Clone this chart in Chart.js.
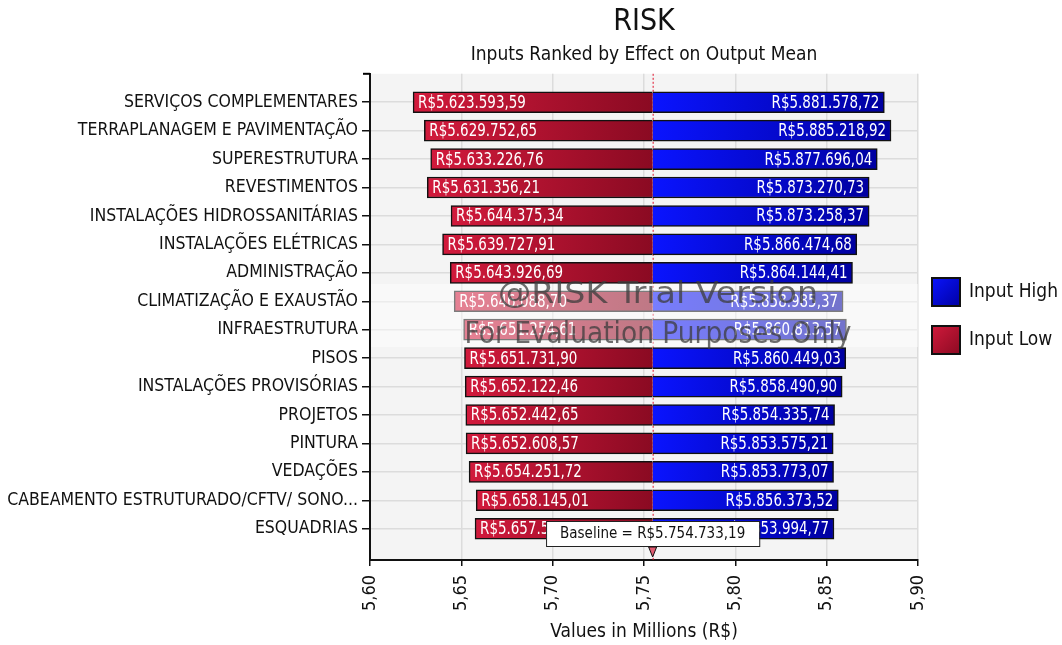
<!DOCTYPE html>
<html>
<head>
<meta charset="utf-8">
<script src="https://cdn.jsdelivr.net/npm/chart.js@4.4.1/dist/chart.umd.min.js"></script>
<style>
  html, body { margin: 0; padding: 0; background: #fff; }
  #wrap { width: 1062px; height: 645px; position: relative; }
</style>
</head>
<body>
<div id="wrap"><canvas id="chart"></canvas></div>
<script>
const categories = [
    'SERVIÇOS COMPLEMENTARES',
    'TERRAPLANAGEM E PAVIMENTAÇÃO',
    'SUPERESTRUTURA',
    'REVESTIMENTOS',
    'INSTALAÇÕES HIDROSSANITÁRIAS',
    'INSTALAÇÕES ELÉTRICAS',
    'ADMINISTRAÇÃO',
    'CLIMATIZAÇÃO E EXAUSTÃO',
    'INFRAESTRUTURA',
    'PISOS',
    'INSTALAÇÕES PROVISÓRIAS',
    'PROJETOS',
    'PINTURA',
    'VEDAÇÕES',
    'CABEAMENTO ESTRUTURADO/CFTV/ SONO...',
    'ESQUADRIAS'
];

// Input Low (R$)
const lowValues = [
    5623593.59, 5629752.65, 5633226.76, 5631356.21, 5644375.34, 5639727.91,
    5643926.69, 5646088.70, 5651254.61, 5651731.90, 5652122.46, 5652442.65,
    5652608.57, 5654251.72, 5658145.01, 5657512.38
];

// Input High (R$)
const highValues = [
    5881578.72, 5885218.92, 5877696.04, 5873270.73, 5873258.37, 5866474.68,
    5864144.41, 5858985.37, 5860813.57, 5860449.03, 5858490.90, 5854335.74,
    5853575.21, 5853773.07, 5856373.52, 5853994.77
];

const baseline = 5754733.19;
const xTicks = [5.60, 5.65, 5.70, 5.75, 5.80, 5.85, 5.90];

const FONT = "'DejaVu Sans Condensed', 'DejaVu Sans', sans-serif";
Chart.defaults.font.family = FONT;
Chart.defaults.color = '#111';

// R$5.623.593,59
function money(v) {
    const parts = v.toFixed(2).split('.');
    return 'R$' + parts[0].replace(/\B(?=(\d{3})+(?!\d))/g, '.') + ',' + parts[1];
}

// degradê por barra (claro em cima/esquerda, escuro embaixo/direita)
function barFill(light, dark, isLow) {
    return function(context) {
        const chart = context.chart;
        const xs = chart.scales.x, ys = chart.scales.y;
        if (!chart.chartArea || !xs || !ys) return light;
        const i = context.dataIndex;
        const a = xs.getPixelForValue((isLow ? lowValues[i] : baseline) / 1e6);
        const b = xs.getPixelForValue((isLow ? baseline : highValues[i]) / 1e6);
        const y = ys.getPixelForValue(i);
        const g = chart.ctx.createLinearGradient(a, y - 10, b, y + 10);
        g.addColorStop(0, light);
        g.addColorStop(1, dark);
        return g;
    };
}

// texto esticado até uma largura alvo
function fitText(ctx, txt, cx, cy, width) {
    const m = ctx.measureText(txt).width;
    ctx.save();
    ctx.translate(cx, cy);
    ctx.scale(width / m, 1);
    ctx.fillText(txt, 0, 0);
    ctx.restore();
}

// fundo cinza da área do gráfico + linha pontilhada da base
const plotBack = {
    id: 'plotBack',
    beforeDraw(chart) {
        const { ctx, chartArea: a } = chart;
        ctx.save();
        ctx.fillStyle = '#f4f4f4';
        ctx.fillRect(a.left, a.top, a.right - a.left, a.bottom - a.top);
        ctx.restore();
    },
    beforeDatasetsDraw(chart) {
        const { ctx, chartArea: a } = chart;
        const x = chart.scales.x.getPixelForValue(baseline / 1e6);
        ctx.save();
        ctx.strokeStyle = '#e0102a';
        ctx.lineWidth = 1;
        ctx.setLineDash([2, 2]);
        ctx.beginPath();
        ctx.moveTo(x + 0.5, a.top);
        ctx.lineTo(x + 0.5, a.bottom);
        ctx.stroke();
        ctx.restore();
    }
};

// rótulos de valor dentro das barras (fonte um pouco mais estreita)
const barLabels = {
    id: 'barLabels',
    afterDatasetsDraw(chart) {
        const { ctx } = chart;
        const xs = chart.scales.x, ys = chart.scales.y;
        const sx = 0.88;
        ctx.save();
        ctx.font = '17px ' + FONT;
        ctx.fillStyle = '#fff';
        ctx.textBaseline = 'middle';
        categories.forEach((c, i) => {
            const y = ys.getPixelForValue(i) + 1;
            const xl = xs.getPixelForValue(lowValues[i] / 1e6) + 5;
            const xr = xs.getPixelForValue(highValues[i] / 1e6) - 5;
            ctx.save();
            ctx.translate(xl, y);
            ctx.scale(sx, 1);
            ctx.textAlign = 'left';
            ctx.fillText(money(lowValues[i]), 0, 0);
            ctx.restore();
            ctx.save();
            ctx.translate(xr, y);
            ctx.scale(sx, 1);
            ctx.textAlign = 'right';
            ctx.fillText(money(highValues[i]), 0, 0);
            ctx.restore();
        });
        ctx.restore();
    }
};

// marca d'água, caixa da base, legenda
const overlay = {
    id: 'overlay',
    afterDraw(chart) {
        const { ctx, chartArea: a } = chart;
        const xs = chart.scales.x;
        const bx = xs.getPixelForValue(baseline / 1e6);
        ctx.save();

        // faixa branca da versão de avaliação
        ctx.fillStyle = 'rgba(255,255,255,0.45)';
        ctx.fillRect(a.left + 1, 284, a.right - a.left - 1, 63);
        ctx.fillStyle = 'rgba(60,60,60,0.75)';
        ctx.textAlign = 'center';
        ctx.textBaseline = 'middle';
        ctx.font = '30px ' + FONT;
        fitText(ctx, '@RISK Trial Version', 658, 295, 320);
        fitText(ctx, 'For Evaluation Purposes Only', 658, 335, 387);

        // topo do eixo y
        ctx.strokeStyle = '#000';
        ctx.lineWidth = 2;
        ctx.beginPath();
        ctx.moveTo(a.left - 7, a.top);
        ctx.lineTo(a.left, a.top);
        ctx.stroke();

        // caixa "Baseline"
        ctx.font = '15px ' + FONT;
        const txt = 'Baseline = ' + money(baseline);
        const w = ctx.measureText(txt).width + 28;
        ctx.fillStyle = '#fff';
        ctx.fillRect(bx - w / 2, 521, w, 25);
        ctx.lineWidth = 1;
        ctx.strokeStyle = '#222';
        ctx.strokeRect(bx - w / 2 + 0.5, 521.5, w, 25);
        ctx.fillStyle = '#111';
        ctx.fillText(txt, bx, 534);

        // seta
        ctx.beginPath();
        ctx.moveTo(bx - 4, 547);
        ctx.lineTo(bx + 4, 547);
        ctx.lineTo(bx, 557);
        ctx.closePath();
        ctx.fillStyle = '#e05a70';
        ctx.fill();
        ctx.strokeStyle = '#111';
        ctx.stroke();

        // legenda
        const items = [
            { label: 'Input High', light: '#0a14ff', dark: '#0000a0', y: 277 },
            { label: 'Input Low', light: '#d21a3c', dark: '#8a0a22', y: 325 }
        ];
        items.forEach(it => {
            const g = ctx.createLinearGradient(931, it.y, 961, it.y + 30);
            g.addColorStop(0, it.light);
            g.addColorStop(1, it.dark);
            ctx.fillStyle = g;
            ctx.fillRect(931, it.y, 30, 30);
            ctx.lineWidth = 2;
            ctx.strokeStyle = '#111';
            ctx.strokeRect(932, it.y + 1, 28, 28);
            ctx.fillStyle = '#111';
            ctx.font = '19px ' + FONT;
            ctx.textAlign = 'left';
            ctx.fillText(it.label, 969, it.y + 15);
        });
        ctx.restore();
    }
};

const ctx = document.getElementById('chart').getContext('2d');
new Chart(ctx, {
    type: 'bar',
    data: {
        datasets: [
            {
                label: 'Input Low',
                data: categories.map((c, i) => ({ x: [lowValues[i] / 1e6, baseline / 1e6], y: i })),
                backgroundColor: barFill('#d21a3c', '#8a0a22', true),
                borderColor: '#111',
                borderWidth: 1.5,
                borderSkipped: 'right'
            },
            {
                label: 'Input High',
                data: categories.map((c, i) => ({ x: [baseline / 1e6, highValues[i] / 1e6], y: i })),
                backgroundColor: barFill('#0a14ff', '#0000a0', false),
                borderColor: '#111',
                borderWidth: 1.5,
                borderSkipped: 'left'
            }
        ]
    },
    options: {
        indexAxis: 'y',
        responsive: true,
        maintainAspectRatio: false,
        animation: false,
        grouped: false,
        barThickness: 21,
        layout: { padding: { left: 0, right: 144, top: 0, bottom: 0 } },
        scales: {
            x: {
                type: 'linear',
                min: 5.60,
                max: 5.90,
                afterBuildTicks: s => { s.ticks = xTicks.map(v => ({ value: v })); },
                afterFit: s => { s.height = 85; },
                ticks: {
                    minRotation: 90,
                    maxRotation: 90,
                    padding: 9,
                    font: { size: 18 },
                    color: '#111',
                    callback: v => v.toFixed(2).replace('.', ',')
                },
                grid: { color: '#dcdcdc', lineWidth: 1.5, tickColor: '#111', tickLength: 6 },
                border: { color: '#111', width: 2 },
                title: {
                    display: true,
                    text: 'Values in Millions (R$)',
                    font: { size: 19 },
                    color: '#111',
                    padding: { top: 0, bottom: 2 }
                }
            },
            y: {
                type: 'linear',
                reverse: true,
                offset: false,
                min: -1,
                max: 16.1,
                afterBuildTicks: s => { s.ticks = categories.map((c, i) => ({ value: i })); },
                afterFit: s => { s.width = 370; },
                ticks: {
                    autoSkip: false,
                    padding: 4,
                    font: { size: 17.5 },
                    color: '#111',
                    callback: v => categories[v]
                },
                grid: { offset: false, color: '#dcdcdc', lineWidth: 1.5, tickColor: '#111', tickLength: 8 },
                border: { color: '#111', width: 2 }
            }
        },
        plugins: {
            legend: { display: false },
            tooltip: { enabled: false },
            title: {
                display: true,
                fullSize: false,
                text: 'RISK',
                font: { size: 30, weight: 'normal' },
                color: '#111',
                padding: { top: 4, bottom: 0 }
            },
            subtitle: {
                display: true,
                fullSize: false,
                text: 'Inputs Ranked by Effect on Output Mean',
                font: { size: 19 },
                color: '#111',
                padding: { top: 4, bottom: 7 }
            }
        }
    },
    plugins: [plotBack, barLabels, overlay]
});
</script>
</body>
</html>
